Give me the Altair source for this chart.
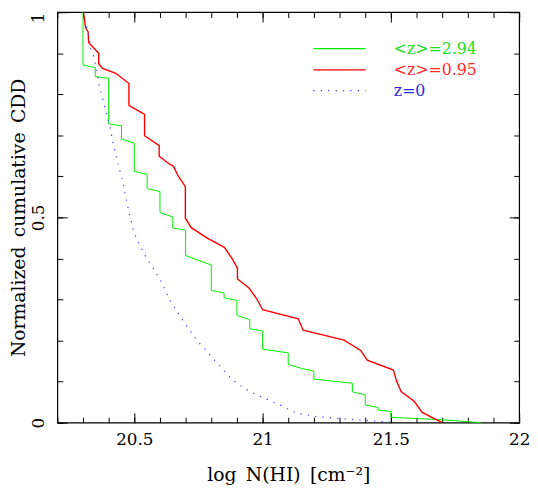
import altair as alt
import pandas as pd

# ---------------- data ----------------
green_x = [20.30, 20.30, 20.348, 20.348, 20.40, 20.40, 20.45, 20.45, 20.50, 20.50,
           20.55, 20.55, 20.60, 20.60, 20.65, 20.65, 20.70, 20.70, 20.80, 20.80,
           20.85, 20.85, 20.90, 20.90, 20.95, 20.95, 21.00, 21.00, 21.10, 21.10,
           21.152, 21.20, 21.20, 21.35, 21.35, 21.40, 21.40, 21.45, 21.45, 21.50,
           21.50, 21.70, 21.85]
green_y = [1.000, 0.871, 0.865, 0.843, 0.839, 0.728, 0.723, 0.691, 0.681, 0.612,
           0.605, 0.570, 0.563, 0.512, 0.501, 0.474, 0.469, 0.407, 0.384, 0.322,
           0.316, 0.304, 0.298, 0.261, 0.251, 0.229, 0.223, 0.179, 0.170, 0.142,
           0.132, 0.126, 0.106, 0.096, 0.075, 0.068, 0.043, 0.037, 0.031, 0.027,
           0.013, 0.007, 0.000]

red_x = [20.302, 20.310, 20.320, 20.322, 20.361, 20.361, 20.376, 20.428, 20.479, 20.479,
         20.540, 20.540, 20.597, 20.597, 20.639, 20.652, 20.671, 20.699, 20.699, 20.722,
         20.786, 20.851, 20.882, 20.902, 20.902, 20.947, 20.979, 21.000, 21.139, 21.158,
         21.318, 21.382, 21.408, 21.510, 21.523, 21.540, 21.591, 21.622, 21.700]
red_y = [1.000, 0.962, 0.952, 0.926, 0.900, 0.875, 0.863, 0.851, 0.826, 0.773,
         0.751, 0.699, 0.675, 0.649, 0.629, 0.625, 0.601, 0.575, 0.498, 0.475,
         0.449, 0.427, 0.399, 0.376, 0.350, 0.328, 0.300, 0.275, 0.253, 0.225,
         0.201, 0.176, 0.152, 0.128, 0.100, 0.076, 0.052, 0.025, 0.000]

blue_x = [20.302, 20.310, 20.322, 20.331, 20.343, 20.353, 20.363, 20.374, 20.384, 20.393,
          20.405, 20.415, 20.428, 20.440, 20.451, 20.460, 20.472, 20.485, 20.498, 20.513,
          20.533, 20.549, 20.578, 20.601, 20.620, 20.639, 20.690, 20.748, 20.767, 20.809,
          20.844, 20.882, 20.927, 20.979, 21.055, 21.132, 21.209, 21.299, 21.414, 21.517]
blue_y = [1.000, 0.976, 0.942, 0.910, 0.891, 0.857, 0.823, 0.796, 0.772, 0.748,
          0.720, 0.689, 0.653, 0.621, 0.598, 0.570, 0.534, 0.498, 0.465, 0.443,
          0.418, 0.399, 0.372, 0.348, 0.324, 0.298, 0.248, 0.197, 0.185, 0.155,
          0.130, 0.105, 0.084, 0.067, 0.047, 0.023, 0.015, 0.010, 0.005, 0.000]

x_major_ticks = [20.5, 21.0, 21.5, 22.0]
x_minor_ticks = [20.2, 20.3, 20.4, 20.5, 20.6, 20.7, 20.8, 20.9, 21.0, 21.1,
                 21.2, 21.3, 21.4, 21.5, 21.6, 21.7, 21.8, 21.9, 22.0]
y_major_ticks = [0.0, 0.5, 1.0]
y_minor_ticks = [0.0, 0.1, 0.2, 0.3, 0.4, 0.5, 0.6, 0.7, 0.8, 0.9, 1.0]

x_title = "log\u2002N(HI)\u2002[cm⁻²]"
y_title = "Normalized\u2002cumulative\u2002CDD"
legend_labels = ["<z>=2.94", "<z>=0.95", "z=0"]
legend_line_colors = ["#00ee00", "#ff0000", "#3333ff"]
legend_text_colors = ["#22dd22", "#ff2a2a", "#2a2ae6"]

FONT = "'DejaVu Serif', 'Liberation Serif', serif"

def frame(xs, ys):
    return pd.DataFrame({"x": xs, "y": ys, "i": list(range(len(xs)))})

gdf = frame(green_x, green_y)
rdf = frame(red_x, red_y)
bdf = frame(blue_x, blue_y)
dummy = pd.DataFrame({"a": [0]})

xscale = alt.Scale(domain=[20.2, 22.0], nice=False, zero=False)
yscale = alt.Scale(domain=[0.0, 1.0], nice=False, zero=False)

common = dict(domain=False, grid=False, tickColor="black", tickWidth=1)

ax_bottom_major = alt.Axis(orient="bottom", values=x_major_ticks, tickSize=10, offset=-10,
                           labels=True, format="~g", labelFlush=False,
                           labelFont=FONT, labelFontSize=17, labelColor="black",
                           labelPadding=9, labelBaseline="top",
                           title=x_title, titleFont=FONT, titleFontSize=19,
                           titleFontWeight="normal", titleColor="black", titlePadding=19,
                           **common)
ax_bottom_minor = alt.Axis(orient="bottom", values=x_minor_ticks, tickSize=5.5, offset=-5.5,
                           labels=False, title=None, **common)
ax_top_major = alt.Axis(orient="top", values=x_major_ticks, tickSize=10, offset=-10,
                        labels=False, title=None, **common)
ax_top_minor = alt.Axis(orient="top", values=x_minor_ticks, tickSize=5.5, offset=-5.5,
                        labels=False, title=None, **common)

ay_left_major = alt.Axis(orient="left", values=y_major_ticks, tickSize=10, offset=-10,
                         labels=True, format="~g", labelFlush=False,
                         labelFont=FONT, labelFontSize=17, labelColor="black",
                         labelAngle=270,
                         labelAlign={"condition": {"test": "datum.value == 1", "value": "right"},
                                     "value": "center"},
                         labelBaseline="alphabetic", labelPadding=14,
                         title=y_title, titleFont=FONT, titleFontSize=19,
                         titleFontWeight="normal", titleColor="black", titlePadding=1,
                         **common)
ay_left_minor = alt.Axis(orient="left", values=y_minor_ticks, tickSize=5.5, offset=-5.5,
                         labels=False, title=None, **common)
ay_right_major = alt.Axis(orient="right", values=y_major_ticks, tickSize=10, offset=-10,
                          labels=False, title=None, **common)
ay_right_minor = alt.Axis(orient="right", values=y_minor_ticks, tickSize=5.5, offset=-5.5,
                          labels=False, title=None, **common)


def xy(axis_x, axis_y):
    return dict(x=alt.X("x:Q", scale=xscale, axis=axis_x),
                y=alt.Y("y:Q", scale=yscale, axis=axis_y),
                order=alt.Order("i:Q"))

green = alt.Chart(gdf).mark_line(color="#00ee00", strokeWidth=1).encode(
    **xy(ax_bottom_major, ay_left_major))
red = alt.Chart(rdf).mark_line(color="#ff0000", strokeWidth=1.4).encode(
    **xy(ax_bottom_minor, ay_left_minor))
blue = alt.Chart(bdf).mark_line(color="#3333ff", strokeWidth=1.2, strokeDash=[1.2, 6.3]).encode(
    **xy(ax_top_major, ay_right_major))
ticks_extra = alt.Chart(bdf).mark_point(opacity=0).encode(
    **xy(ax_top_minor, ay_right_minor))

# legend (positions in plot pixels)
leg_y = [37, 58.5, 79.5]
legend_layers = []
for i in range(3):
    dash = [1.2, 6.3] if i == 2 else [1, 0]
    legend_layers.append(
        alt.Chart(dummy).mark_rule(color=legend_line_colors[i],
                                   strokeWidth=1.4 if i == 1 else 1.1,
                                   strokeDash=dash).encode(
            x=alt.value(259.5), x2=alt.value(312.5), y=alt.value(leg_y[i])))
    legend_layers.append(
        alt.Chart(dummy).mark_text(text=legend_labels[i], align="left", baseline="middle",
                                   font=FONT, fontSize=16,
                                   color=legend_text_colors[i]).encode(
            x=alt.value(341), y=alt.value(leg_y[i])))

chart = alt.layer(green, red, blue, ticks_extra, *legend_layers).resolve_axis(
    x="independent", y="independent"
).properties(
    width=468, height=416,
    padding={"left": 50, "top": 1, "right": 11, "bottom": 61},
    autosize=alt.AutoSizeParams(type="none"),
    background="white",
).configure_view(stroke="black", strokeWidth=1.2)

chart.save("out.html", embed_options={"renderer": "svg", "actions": False})
